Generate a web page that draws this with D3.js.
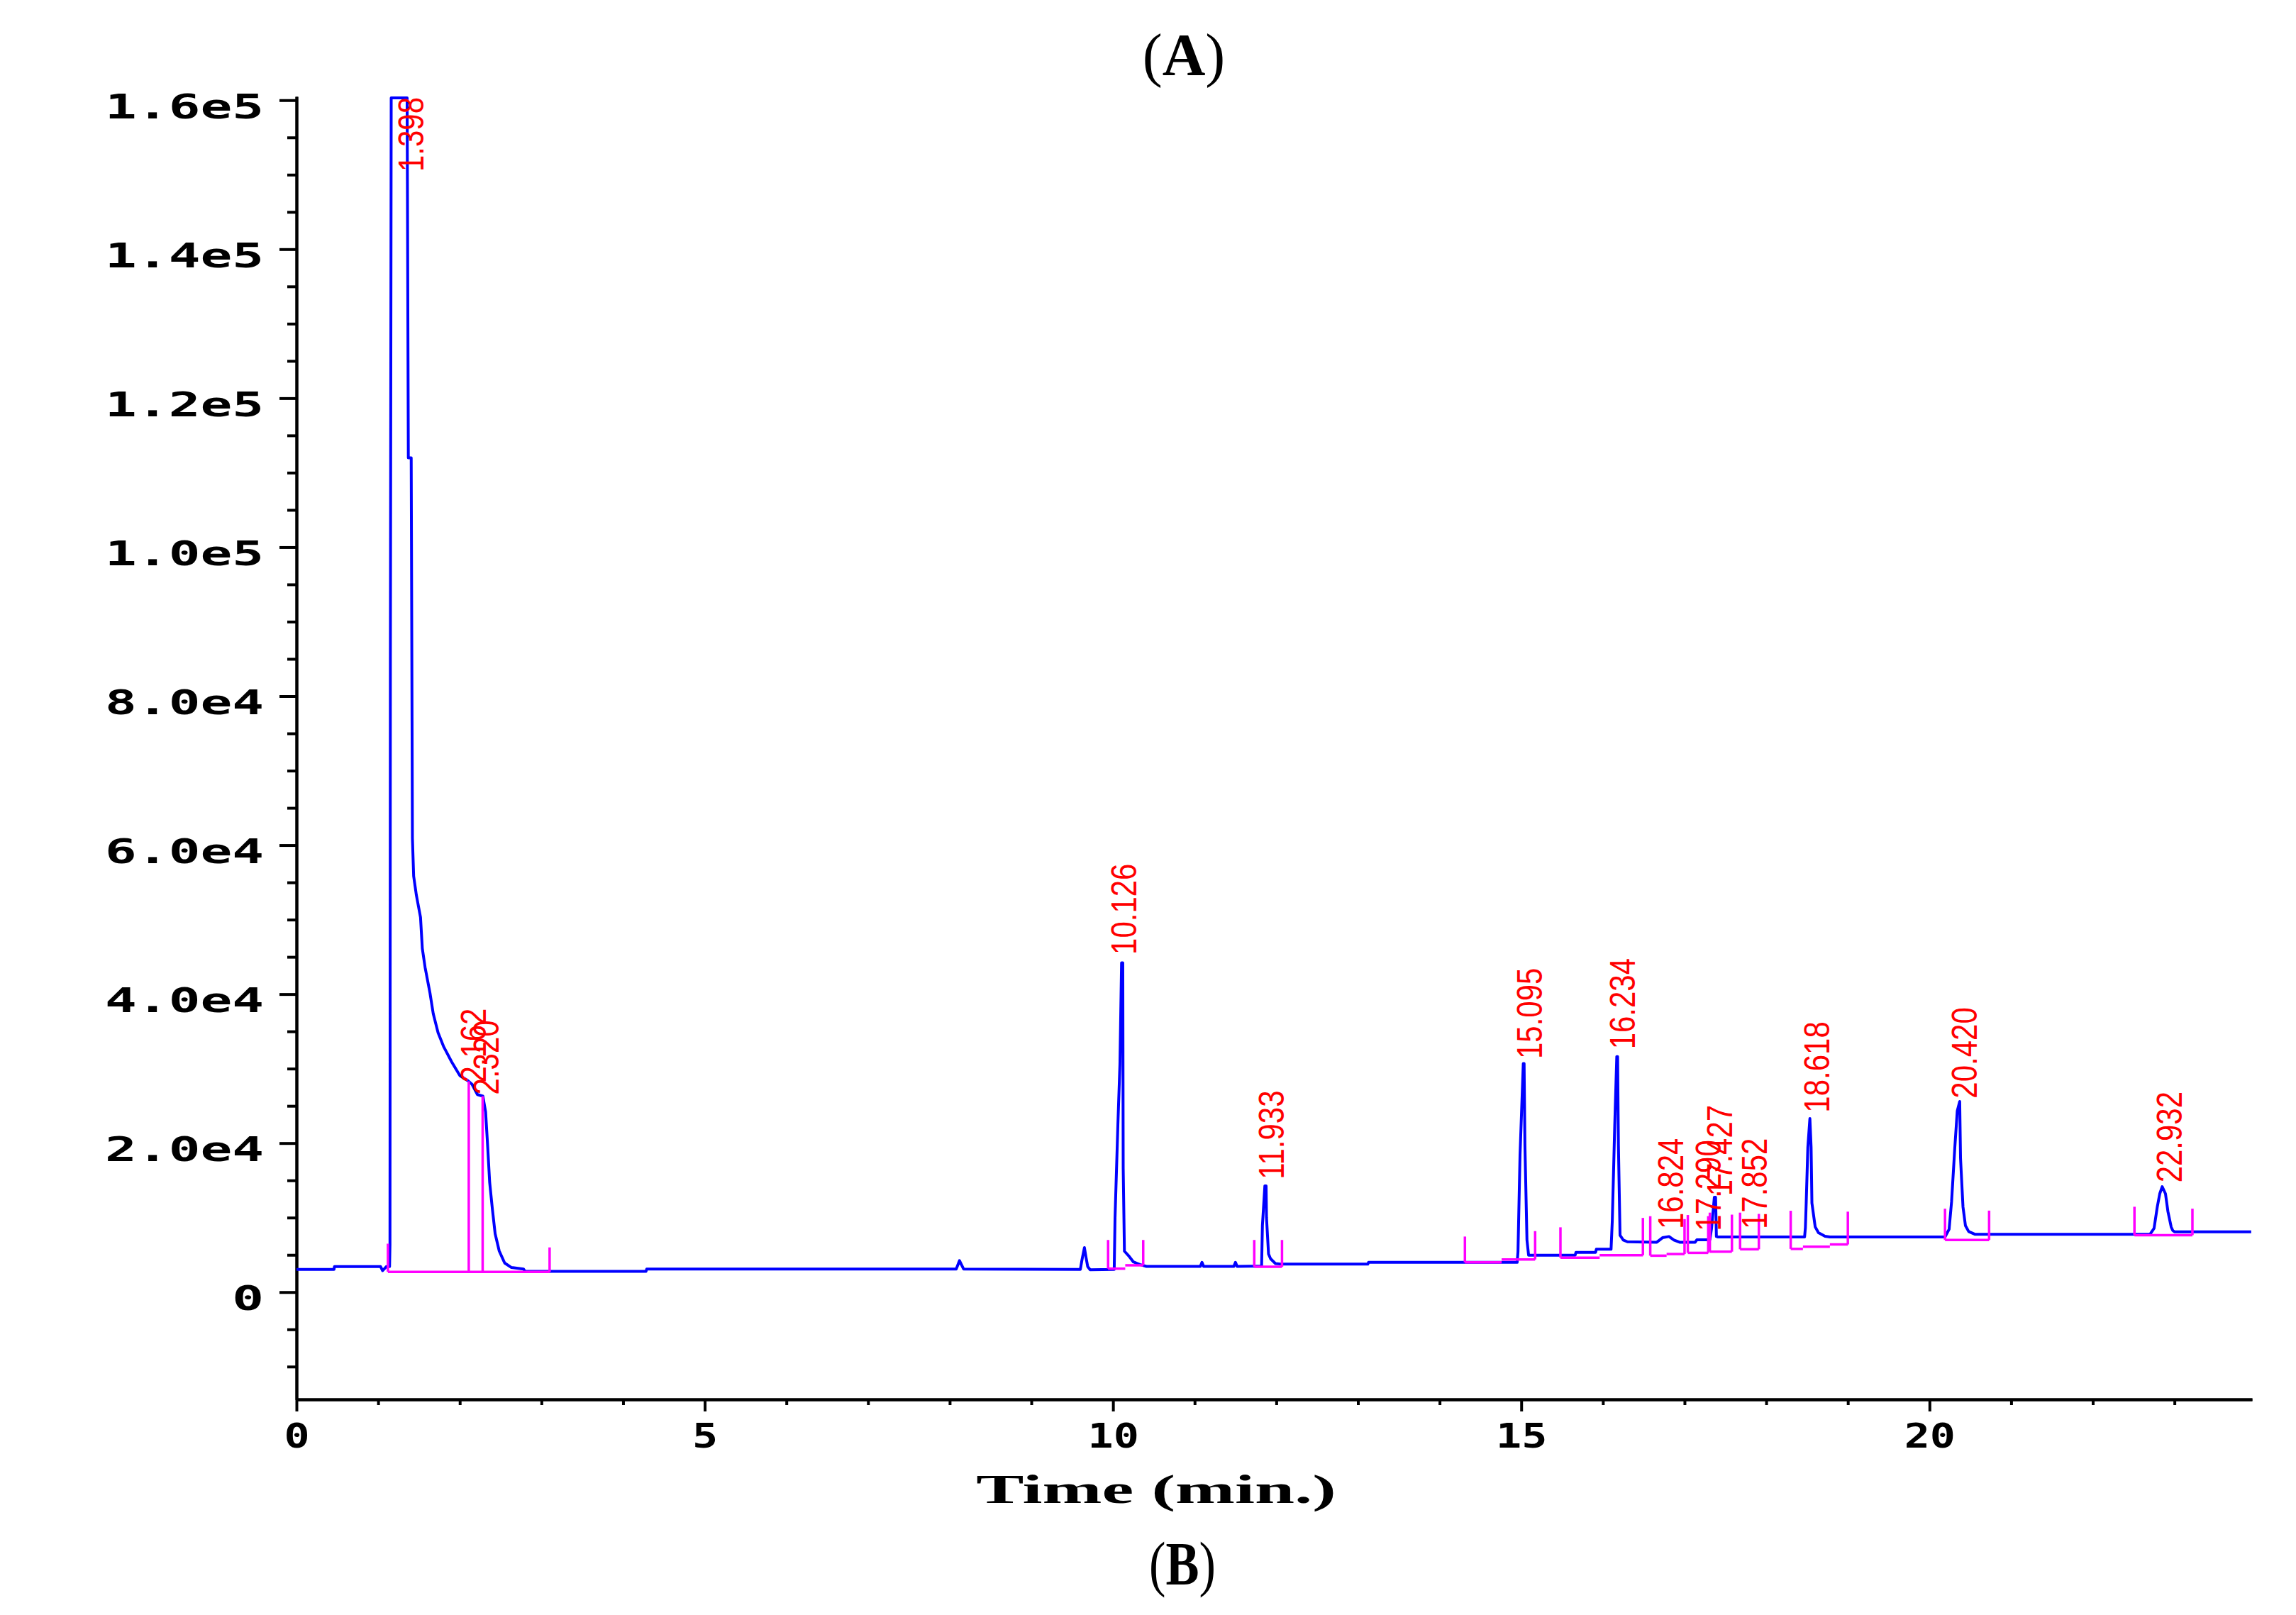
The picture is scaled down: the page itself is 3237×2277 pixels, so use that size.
<!DOCTYPE html>
<meta charset="utf-8">
<script src="https://d3js.org/d3.v7.min.js"></script>
<style>

body {
  margin: 0;
  background: #fff;
}
svg {
  display: block;
}

.axis path, .axis line {
  stroke: #000;
  stroke-width: 4px;
}

text.tick-label {
  font-family: "DejaVu Sans Mono";
  font-weight: bold;
  font-size: 48px;
  fill: #000;
}

text.peak-label {
  font-family: "Liberation Sans";
  font-size: 50px;
  fill: #ff0000;
}

text.axis-title, text.panel {
  font-family: "Liberation Serif";
  fill: #000;
}

</style>
<body>
  <div class="chart"></div>
<script type="text/javascript">

// Chromatogram trace (time in min, signal)
var traceTime = [
  0.00, 0.46, 0.465, 1.03, 1.055, 1.10, 1.14, 1.145, 1.15, 1.16, 1.355, 1.37, 1.405, 1.42, 1.435,
  1.468, 1.519, 1.541, 1.575, 1.635, 1.675, 1.734, 1.801, 1.901, 2.001, 2.10, 2.15, 2.216, 2.283,
  2.316, 2.339, 2.366, 2.40, 2.433, 2.483, 2.55, 2.633, 2.78, 2.80, 4.28, 4.29, 8.08, 8.12, 8.17,
  9.60, 9.62, 9.65, 9.67, 9.69, 9.72, 10.015, 10.025, 10.06, 10.085, 10.105, 10.12, 10.125, 10.14,
  10.19, 10.25, 10.33, 10.41, 11.07, 11.09, 11.11, 11.48, 11.50, 11.52, 11.82, 11.83, 11.86, 11.875,
  11.88, 11.905, 11.93, 11.99, 12.07, 13.12, 13.13, 14.95, 14.96, 14.985, 15.025, 15.035, 15.045,
  15.07, 15.09, 15.66, 15.67, 15.91, 15.92, 16.10, 16.115, 16.145, 16.17, 16.18, 16.19, 16.21,
  16.25, 16.30, 16.66, 16.73, 16.81, 16.87, 16.94, 17.13, 17.15, 17.31, 17.33, 17.365, 17.38,
  17.39, 17.41, 18.47, 18.48, 18.49, 18.51, 18.535, 18.55, 18.56, 18.60, 18.64, 18.72, 18.78,
  20.19, 20.24, 20.27, 20.31, 20.34, 20.37, 20.38, 20.41, 20.44, 20.48, 20.56, 22.70, 22.75,
  22.79, 22.82, 22.85, 22.89, 22.92, 22.96, 22.98, 23.00, 23.94
];
var traceSignal = [
  3040, 3040, 3420, 3420, 2880, 3420, 3420, 6400, 85000, 160300, 160300, 112000, 112000, 60900, 55840,
  53300, 50300, 46140, 43600, 40140, 37370, 34830, 32980, 30900, 29060, 28370, 27900, 26520, 26300,
  24190, 20040, 14730, 11060, 7830, 5520, 3900, 3300, 3100, 2780, 2780, 3100, 3100, 4220, 3100,
  3050, 4320, 5970, 4640, 3430, 3000, 3050, 10000, 22500, 30600, 44200, 44200, 16600, 5500,
  4900, 4050, 3700, 3450, 3450, 4000, 3450, 3450, 4000, 3450, 3500, 8940, 14260, 14260,
  10000, 5110, 4470, 3830, 3750, 3750, 4000, 4000, 5400, 18400, 30670, 30670, 19700,
  6990, 4950, 4950, 5330, 5330, 5750, 5750, 9560, 22400, 31620, 31620, 19700, 7620,
  6990, 6760, 6700, 7300, 7460, 6990, 6700, 6700, 7020, 7020, 8500, 12730, 12730,
  7460, 7400, 7400, 8640, 11970, 19430, 23300, 19430, 11940, 8760, 7970, 7500, 7400,
  7400, 8440, 12100, 19400, 24320, 25590, 17970, 11460, 8920, 8130, 7750, 7750, 8550,
  11460, 13210, 14160, 13210, 10820, 8740, 8260, 8100, 8100
];

// Integration baselines [start, end, level] and drop marks [time, from, to]
var integSegments = [
  [1.12, 3.10, 2720],
  [9.94, 10.15, 3150], [10.15, 10.37, 3600],
  [11.73, 12.07, 3400],
  [14.31, 14.76, 3990], [14.76, 15.17, 4380],
  [15.48, 15.96, 4630], [15.96, 16.49, 4950],
  [16.58, 16.78, 4890], [16.78, 17.00, 5110],
  [17.04, 17.29, 5270], [17.31, 17.58, 5430],
  [17.68, 17.91, 5750],
  [18.30, 18.45, 5800], [18.45, 18.78, 6100], [18.78, 19.00, 6400],
  [20.19, 20.73, 7000],
  [22.51, 23.22, 7650]
];
var integMarks = [
  [1.12, 2720, 6500], [2.11, 2720, 28300], [2.28, 2720, 26300], [3.10, 2720, 6000],
  [9.94, 3150, 7000], [10.37, 3600, 7000],
  [11.73, 3400, 7000], [12.07, 3400, 7000],
  [14.31, 3990, 7460], [15.17, 4380, 8190],
  [15.48, 4630, 8700], [16.49, 4950, 9960],
  [16.58, 4890, 10190], [17.00, 5110, 9800],
  [17.04, 5270, 10350], [17.29, 5270, 10200],
  [17.31, 5430, 10670], [17.58, 5430, 10400],
  [17.68, 5750, 10670], [17.91, 5750, 10500],
  [18.30, 5800, 10920], [19.00, 6400, 10800],
  [20.19, 7000, 11200], [20.73, 7000, 10940],
  [22.51, 7650, 11460], [23.22, 7650, 11200]
];

// Retention time labels and the signal level where each label starts
var peakLabels = ["1.398", "2.162", "2.320", "10.126", "11.933", "15.095", "16.234",
                  "16.824", "17.290", "17.427", "17.852", "18.618", "20.420", "22.932"];
var peakLabelBase = [150400, 28100, 26500, 45300, 15140, 31300, 32600,
                     8450, 8200, 12900, 8450, 24100, 26000, 14700];

// Axis ticks
var yMajorTicks = [0, 20000, 40000, 60000, 80000, 100000, 120000, 140000, 160000];
var yTickLabels = ["0", "2.0e4", "4.0e4", "6.0e4", "8.0e4", "1.0e5", "1.2e5", "1.4e5", "1.6e5"];
var yMinorTicks = d3.range(-10000, 160001, 5000).filter(function(d) { return d % 20000 != 0; });
var xMajorTicks = [0, 5, 10, 15, 20];
var xTickLabels = ["0", "5", "10", "15", "20"];
var xMinorTicks = d3.range(1, 24).filter(function(d) { return d % 5 != 0; });

var width = 3237,
    height = 2277;

var x = d3.scaleLinear().domain([0, 23.95]).range([418, 3175]);
var y = d3.scaleLinear().domain([-14400, 160500]).range([1973, 136]);

var svg = d3.select(".chart").append("svg")
    .attr("width", width)
    .attr("height", height);

svg.append("rect")
    .attr("width", width)
    .attr("height", height)
    .attr("fill", "#fff");

// Y axis: minor then major ticks
svg.append("g")
    .attr("class", "axis")
    .attr("transform", "translate(" + x(0) + ",0)")
    .call(d3.axisLeft(y).tickValues(yMinorTicks).tickSize(13).tickSizeOuter(0).tickFormat(""));

var yAxis = svg.append("g")
    .attr("class", "axis")
    .attr("transform", "translate(" + x(0) + ",0)")
    .call(d3.axisLeft(y).tickValues(yMajorTicks).tickSize(24).tickSizeOuter(0)
      .tickFormat(function(d, i) { return yTickLabels[i]; }));

yAxis.selectAll("text")
    .attr("class", "tick-label")
    .attr("x", 0)
    .attr("dy", null)
    .attr("y", 25)
    .attr("text-anchor", "end")
    .attr("transform", "translate(-46,0) scale(1.55,1)");

// X axis
svg.append("g")
    .attr("class", "axis")
    .attr("transform", "translate(0," + y.range()[0] + ")")
    .call(d3.axisBottom(x).tickValues(xMinorTicks).tickSize(8).tickSizeOuter(0).tickFormat(""));

var xAxis = svg.append("g")
    .attr("class", "axis")
    .attr("transform", "translate(0," + y.range()[0] + ")")
    .call(d3.axisBottom(x).tickValues(xMajorTicks).tickSize(17).tickSizeOuter(0)
      .tickFormat(function(d, i) { return xTickLabels[i]; }));

xAxis.selectAll("text")
    .attr("class", "tick-label")
    .attr("dy", null)
    .attr("y", 68)
    .attr("text-anchor", "middle")
    .attr("transform", "scale(1.25,1)");

// Axis title
svg.append("text")
    .attr("class", "axis-title")
    .attr("text-anchor", "middle")
    .attr("font-size", 56)
    .attr("font-weight", "bold")
    .attr("transform", "translate(1630,2119) scale(1.8,1)")
    .text("Time (min.)");

// Chromatogram trace
var trace = traceTime.map(function(t, i) { return [t, traceSignal[i]]; });

var line = d3.line()
    .x(function(d) { return x(d[0]); })
    .y(function(d) { return y(d[1]); });

svg.append("path")
    .datum(trace)
    .attr("d", line)
    .attr("fill", "none")
    .attr("stroke", "#0000ff")
    .attr("stroke-width", 4)
    .attr("stroke-linejoin", "round");

// Integration baselines and marks
svg.selectAll(".integ-seg")
    .data(integSegments)
    .enter().append("line")
    .attr("class", "integ-seg")
    .attr("x1", function(d) { return x(d[0]); })
    .attr("x2", function(d) { return x(d[1]); })
    .attr("y1", function(d) { return y(d[2]); })
    .attr("y2", function(d) { return y(d[2]); })
    .attr("stroke", "#ff00ff")
    .attr("stroke-width", 3.5);

svg.selectAll(".integ-mark")
    .data(integMarks)
    .enter().append("line")
    .attr("class", "integ-mark")
    .attr("x1", function(d) { return x(d[0]); })
    .attr("x2", function(d) { return x(d[0]); })
    .attr("y1", function(d) { return y(d[1]); })
    .attr("y2", function(d) { return y(d[2]); })
    .attr("stroke", "#ff00ff")
    .attr("stroke-width", 3.5);

// Peak labels
svg.selectAll(".peak-label")
    .data(peakLabels)
    .enter().append("text")
    .attr("class", "peak-label")
    .attr("text-anchor", "start")
    .attr("dy", "0.36em")
    .attr("transform", function(d, i) {
      return "translate(" + x(+d) + "," + y(peakLabelBase[i]) + ") rotate(-90) scale(0.84,1)";
    })
    .text(function(d) { return d; });

// Panel letters
var panelA = svg.append("text")
    .attr("class", "panel")
    .attr("x", 1669)
    .attr("y", 106)
    .attr("font-size", 84)
    .attr("text-anchor", "middle");
panelA.append("tspan").text("(");
panelA.append("tspan").attr("font-weight", "bold").text("A");
panelA.append("tspan").text(")");

var panelB = svg.append("text")
    .attr("class", "panel")
    .attr("font-size", 86)
    .attr("text-anchor", "middle")
    .attr("transform", "translate(1667,2234) scale(0.82,1)");
panelB.append("tspan").text("(");
panelB.append("tspan").attr("font-weight", "bold").text("B");
panelB.append("tspan").text(")");

</script>
</body>
